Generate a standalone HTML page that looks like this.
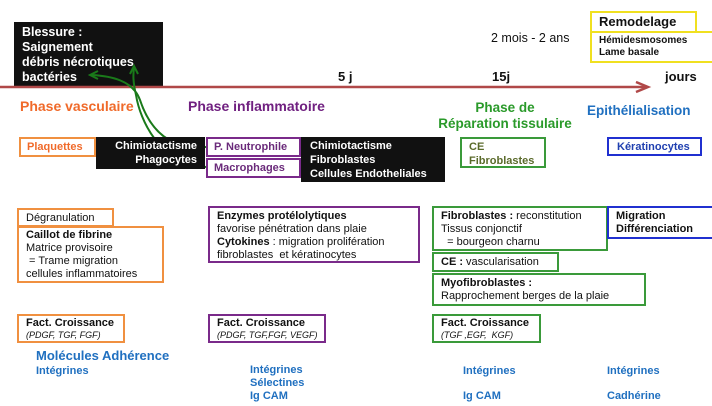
<!DOCTYPE html>
<html><head><meta charset="utf-8"><style>
body{margin:0;width:712px;height:406px;background:#fff;position:relative;overflow:hidden;font-family:"Liberation Sans",sans-serif;font-size:11px;color:#111}
.a{position:absolute;box-sizing:border-box;line-height:14px;white-space:nowrap}
.b{font-weight:bold}
.blk{background:#111;color:#fff;font-weight:bold}
.o{border:2px solid #f09040}.p{border:2px solid #7a2a8a}.g{border:2px solid #3a9a3a}.bl{border:2px solid #2030d0}.y{border:2px solid #f0e020}
.it{font-style:italic;font-size:9px}
.blue{color:#2070c0;font-weight:bold}
</style></head><body>
<div class="a blk" style="left:14px;top:22px;width:149px;height:65px;padding:3px 8px;font-size:12.5px;line-height:15px">Blessure :<br>Saignement<br>débris nécrotiques<br>bactéries</div>
<svg class="a" style="left:0;top:0" width="712" height="406">
<line x1="0" y1="87" x2="645" y2="87" stroke="#b04848" stroke-width="2.5"/>
<path d="M636 82 L648 87 L636 92" fill="none" stroke="#b04848" stroke-width="2.5"/>
<path d="M206 147 C170 150 150 130 140 100 C133 80 110 76 92 75" fill="none" stroke="#1a7a1a" stroke-width="2"/>
<path d="M98 71 L90 75 L98 79" fill="none" stroke="#1a7a1a" stroke-width="2"/>
<path d="M206 167 C160 165 140 120 136 95 C133 82 133 75 134 68" fill="none" stroke="#1a7a1a" stroke-width="2"/>
<path d="M130 74 L134 66 L138 74" fill="none" stroke="#1a7a1a" stroke-width="2"/>
</svg>
<div class="a b" style="left:338px;top:70px;font-size:13px">5 j</div>
<div class="a b" style="left:492px;top:70px;font-size:13px">15j</div>
<div class="a b" style="left:665px;top:70px;font-size:13px">jours</div>
<div class="a" style="left:491px;top:31px;font-size:12.5px">2 mois - 2 ans</div>
<div class="a y b" style="left:590px;top:11px;width:107px;height:22px;padding:2px 7px;font-size:13px">Remodelage</div>
<div class="a y b" style="left:590px;top:31px;width:124px;height:32px;padding:2px 7px;font-size:10px;line-height:12px">Hémidesmosomes<br>Lame basale</div>
<div class="a b" style="left:20px;top:99px;font-size:14px;color:#f06a2a">Phase vasculaire</div>
<div class="a b" style="left:188px;top:99px;font-size:14px;color:#702080">Phase inflammatoire</div>
<div class="a b" style="left:430px;top:100px;width:150px;text-align:center;font-size:13.5px;line-height:16px;color:#2a9a2a">Phase de<br>Réparation tissulaire</div>
<div class="a b" style="left:587px;top:104px;font-size:13.5px;color:#2070c0">Epithélialisation</div>
<div class="a o b" style="left:19px;top:137px;width:77px;height:20px;padding:1px 6px;color:#f06a2a">Plaquettes</div>
<div class="a blk" style="left:96px;top:137px;width:109px;height:32px;padding:2px 8px;text-align:right">Chimiotactisme<br>Phagocytes</div>
<div class="a p b" style="left:206px;top:137px;width:95px;height:20px;padding:1px 6px;color:#6a2a7a">P. Neutrophile</div>
<div class="a p b" style="left:206px;top:158px;width:95px;height:20px;padding:1px 6px;color:#6a2a7a">Macrophages</div>
<div class="a blk" style="left:301px;top:137px;width:144px;height:45px;padding:2px 9px">Chimiotactisme<br>Fibroblastes<br>Cellules Endotheliales</div>
<div class="a g b" style="left:460px;top:137px;width:86px;height:31px;padding:1px 7px;color:#5a6a2a">CE<br>Fibroblastes</div>
<div class="a bl b" style="left:607px;top:137px;width:95px;height:19px;padding:1px 8px;color:#2040b0">Kératinocytes</div>
<div class="a o" style="left:17px;top:208px;width:97px;height:19px;padding:1px 7px">Dégranulation</div>
<div class="a o" style="left:17px;top:226px;width:147px;height:57px;padding:1px 7px;line-height:13px"><b>Caillot de fibrine</b><br>Matrice provisoire<br>&nbsp;= Trame migration<br>cellules inflammatoires</div>
<div class="a p" style="left:208px;top:206px;width:212px;height:57px;padding:2px 7px;line-height:13px"><b>Enzymes protélolytiques</b><br>favorise pénétration dans plaie<br><b>Cytokines</b> : migration prolifération<br>fibroblastes&nbsp; et kératinocytes</div>
<div class="a g" style="left:432px;top:206px;width:176px;height:45px;padding:2px 7px;line-height:13px"><b>Fibroblastes :</b> reconstitution<br>Tissus conjonctif<br>&nbsp;&nbsp;= bourgeon charnu</div>
<div class="a bl b" style="left:607px;top:206px;width:107px;height:33px;padding:2px 7px;line-height:13px">Migration<br>Différenciation</div>
<div class="a g" style="left:432px;top:252px;width:127px;height:20px;padding:1px 7px"><b>CE :</b> vascularisation</div>
<div class="a g" style="left:432px;top:273px;width:214px;height:33px;padding:2px 7px;line-height:13px"><b>Myofibroblastes :</b><br>Rapprochement berges de la plaie</div>
<div class="a o" style="left:17px;top:314px;width:108px;height:29px;padding:1px 7px;line-height:12px"><b>Fact. Croissance</b><br><span class="it">(PDGF, TGF, FGF)</span></div>
<div class="a p" style="left:208px;top:314px;width:118px;height:29px;padding:1px 7px;line-height:12px"><b>Fact. Croissance</b><br><span class="it">(PDGF, TGF,FGF, VEGF)</span></div>
<div class="a g" style="left:432px;top:314px;width:109px;height:29px;padding:1px 7px;line-height:12px"><b>Fact. Croissance</b><br><span class="it">(TGF ,EGF,&nbsp; KGF)</span></div>
<div class="a blue" style="left:36px;top:349px;font-size:13px">Molécules Adhérence</div>
<div class="a blue" style="left:36px;top:364px">Intégrines</div>
<div class="a blue" style="left:250px;top:364px;line-height:12.8px">Intégrines<br>Sélectines<br>Ig CAM</div>
<div class="a blue" style="left:463px;top:364px">Intégrines</div>
<div class="a blue" style="left:463px;top:389px">Ig CAM</div>
<div class="a blue" style="left:607px;top:364px">Intégrines</div>
<div class="a blue" style="left:607px;top:389px">Cadhérine</div>
</body></html>
